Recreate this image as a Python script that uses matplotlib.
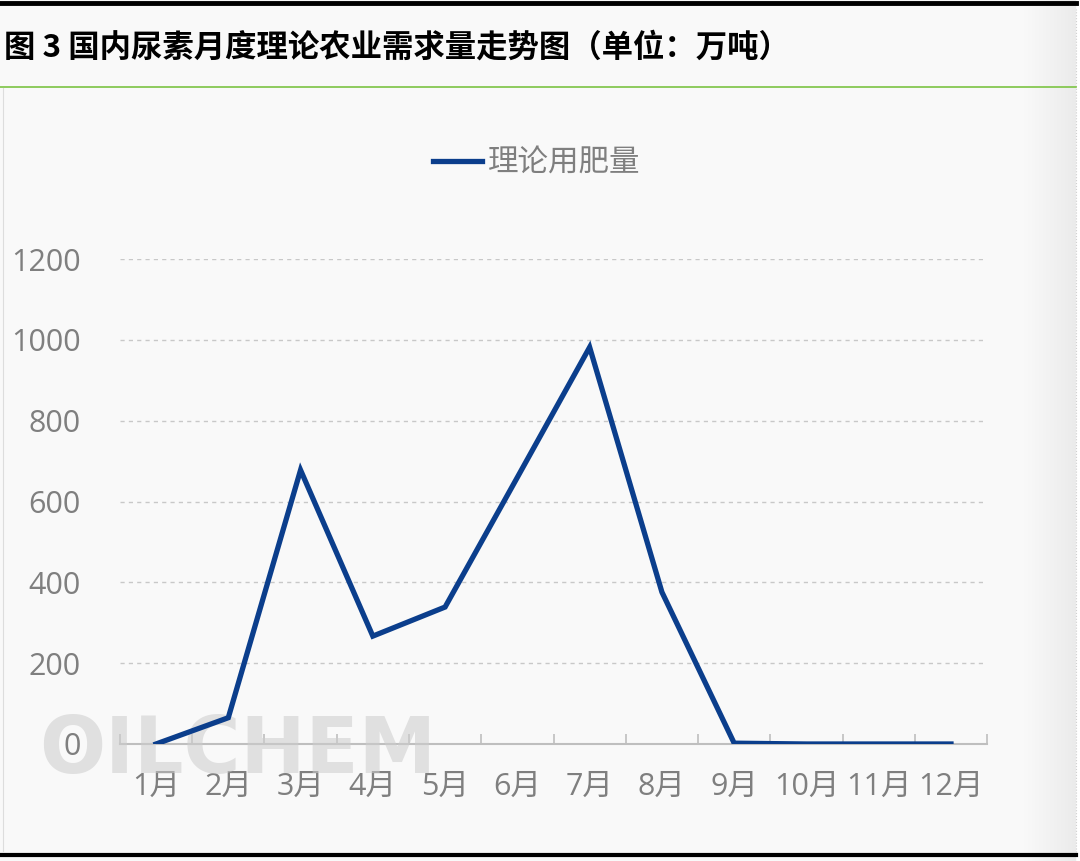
import numpy as np
import matplotlib.pyplot as plt
from matplotlib.lines import Line2D
from matplotlib.colors import LinearSegmentedColormap

plt.rcParams['font.family'] = ['Noto Sans CJK SC', 'DejaVu Sans']

# data
months = ['1月', '2月', '3月', '4月', '5月', '6月', '7月', '8月', '9月', '10月', '11月', '12月']
demand = [0, 65, 678, 267, 339, 660, 982, 376, 2, 0, 0, 0]
yticks = [0, 200, 400, 600, 800, 1000, 1200]

title = '图 3 国内尿素月度理论农业需求量走势图（单位：万吨）'
series_name = '理论用肥量'

BG = '#f9f9f9'
GREY = '#7f7f7f'
BLUE = '#0b3e8c'
TICKFONT = ['Open Sans', 'Noto Sans CJK SC']

fig = plt.figure(figsize=(10.8, 8.61), dpi=100, facecolor=BG)

# soft shade at right edge
sh = fig.add_axes([0.948, 0.0, 0.048, 1.0])
shade = LinearSegmentedColormap.from_list('shade', [BG, '#ebebeb'])
sh.imshow(np.linspace(0, 1, 60).reshape(1, -1), aspect='auto', cmap=shade,
          extent=[0, 1, 0, 1])
sh.axis('off')
fig.add_artist(Line2D([0.996, 0.996], [0.01, 0.99], color='#d0d0d0', lw=0.8, ls=':'))
fig.patches.append(plt.Rectangle((0.997, 0), 0.003, 1, transform=fig.transFigure,
                                 color='white', zorder=0))

# frame lines
fig.add_artist(Line2D([0, 0.996], [0.9965, 0.9965], color='black', lw=3.5))
fig.add_artist(Line2D([0, 0.996], [0.899, 0.899], color='#7cc443', lw=1.2))
fig.add_artist(Line2D([0, 0.996], [0.007, 0.007], color='black', lw=3))
fig.add_artist(Line2D([0.003, 0.003], [0.012, 0.898], color='#dddddd', lw=0.8))

fig.text(0.004, 0.945, title, fontsize=22.6, fontweight='bold', color='black',
         ha='left', va='center')

ax = fig.add_axes([0.111, 0.1359, 0.803, 0.5631])
ax.set_facecolor('none')

x = np.arange(len(months))
ax.plot(x, demand, color=BLUE, lw=3.8, solid_joinstyle='miter', label=series_name, zorder=4)

ax.set_xlim(-0.5, len(months) - 0.5)
ax.set_ylim(0, 1200)
ax.set_yticks(yticks)
ax.set_xticks(x)
ax.set_xticklabels(months)
ax.set_xticks(np.arange(-0.5, len(months)), minor=True)

for yv in yticks[1:]:
    ax.axhline(yv, color='#c8c8c8', lw=1, ls=(0, (3, 3)), zorder=1)

for s in ['top', 'right', 'left']:
    ax.spines[s].set_visible(False)
ax.spines['bottom'].set_color('#bfbfbf')
ax.spines['bottom'].set_linewidth(1.5)

ax.tick_params(axis='y', length=0, pad=28, labelsize=22, labelcolor=GREY)
ax.tick_params(axis='x', which='major', length=0, pad=20, labelsize=22, labelcolor=GREY)
ax.tick_params(axis='x', which='minor', direction='in', length=7, width=1.2, color='#bfbfbf')
for lab in ax.get_xticklabels() + ax.get_yticklabels():
    lab.set_family(TICKFONT)

# watermark (above the axis line, below the data line)
ax.text(0.036, 0.128, 'OILCHEM', transform=fig.transFigure, fontsize=56, fontweight='bold',
        color='#cccccc', alpha=0.55, ha='left', va='center', family='DejaVu Sans',
        zorder=3, clip_on=False)

leg = ax.legend(loc='center', bbox_to_anchor=(0.497, 0.811), bbox_transform=fig.transFigure,
                frameon=False, fontsize=22, handlelength=1.6, handletextpad=0.2)
for t in leg.get_texts():
    t.set_color(GREY)

fig.savefig('out.png', dpi=100, facecolor=BG)
